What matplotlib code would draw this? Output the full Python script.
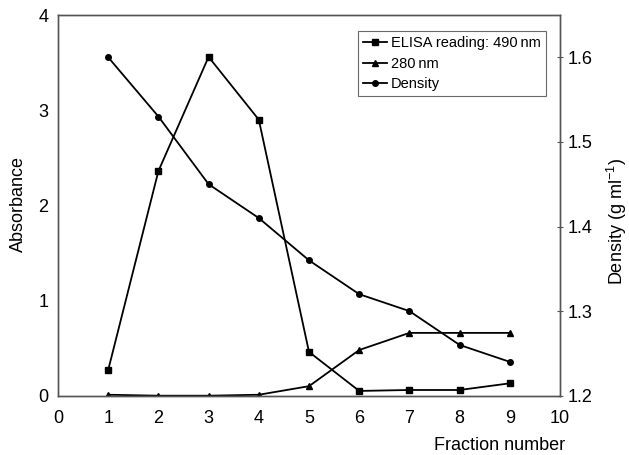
import matplotlib
matplotlib.use("Agg")
import matplotlib.pyplot as plt

plt.rcParams['font.family'] = ['Liberation Sans', 'DejaVu Sans']
plt.rcParams['mathtext.fontset'] = 'custom'
plt.rcParams['mathtext.rm'] = 'Liberation Sans'

fraction = [1, 2, 3, 4, 5, 6, 7, 8, 9]
elisa_490 = [0.27, 2.36, 3.56, 2.90, 0.46, 0.05, 0.06, 0.06, 0.13]
abs_280 = [0.01, 0.0, 0.0, 0.01, 0.10, 0.48, 0.66, 0.66, 0.66]
density = [1.60, 1.53, 1.45, 1.41, 1.36, 1.32, 1.30, 1.26, 1.24]

x_ticks = list(range(0, 11))
y_ticks = [0, 1, 2, 3, 4]
y2_ticks = [1.2, 1.3, 1.4, 1.5, 1.6]

W, H = 629, 455
fig = plt.figure(figsize=(W/100, H/100), dpi=100)
ax = fig.add_axes([58/W, 1 - 395.7/H, (560-58)/W, (395.7-15)/H])
ax2 = ax.twinx()

l1, = ax.plot(fraction, elisa_490, color='black', lw=1.3, marker='s', ms=4.5,
              label='ELISA reading: 490\u2009nm')
l2, = ax.plot(fraction, abs_280, color='black', lw=1.3, marker='^', ms=4.5,
              label='280\u2009nm')
l3, = ax2.plot(fraction, density, color='black', lw=1.3, marker='o', ms=4,
               label='Density')

ax.set_xlim(0, 10)
ax.set_ylim(0, 4)
ax2.set_ylim(1.2, 1.65)
ax.set_xticks(x_ticks)
ax.set_yticks(y_ticks)
ax2.set_yticks(y2_ticks)
ax2.set_yticklabels([f"{v:.1f}" for v in y2_ticks])

for a in (ax, ax2):
    for s in a.spines.values():
        s.set_color('#555555')
        s.set_linewidth(1.0)

ax.tick_params(axis='y', length=0, labelsize=13, pad=7)
ax.tick_params(axis='x', length=0, labelsize=13, pad=10)
ax2.tick_params(axis='y', length=5, direction='inout', labelsize=13, pad=3,
                color='#555555')

fig.text(18/W, 1 - 204/H, 'Absorbance', fontsize=13, rotation=90,
         ha='center', va='center')
fig.text(617/W, 1 - 222/H, 'Density (g ml$^{-1}$)', fontsize=13, rotation=90,
         ha='center', va='center')
fig.text(500/W, 1 - 445/H, 'Fraction number', fontsize=13,
         ha='center', va='center')

leg = ax.legend(handles=[l1, l2, l3], loc='upper right',
                bbox_to_anchor=(546/W, 1 - 31/H), bbox_transform=fig.transFigure,
                fontsize=10.5, frameon=True, fancybox=False, handlelength=1.6,
                handletextpad=0.3, borderpad=0.35, labelspacing=0.45,
                borderaxespad=0)
leg.get_frame().set_edgecolor('#444444')
leg.get_frame().set_linewidth(0.8)

fig.savefig('out.png', dpi=100)
